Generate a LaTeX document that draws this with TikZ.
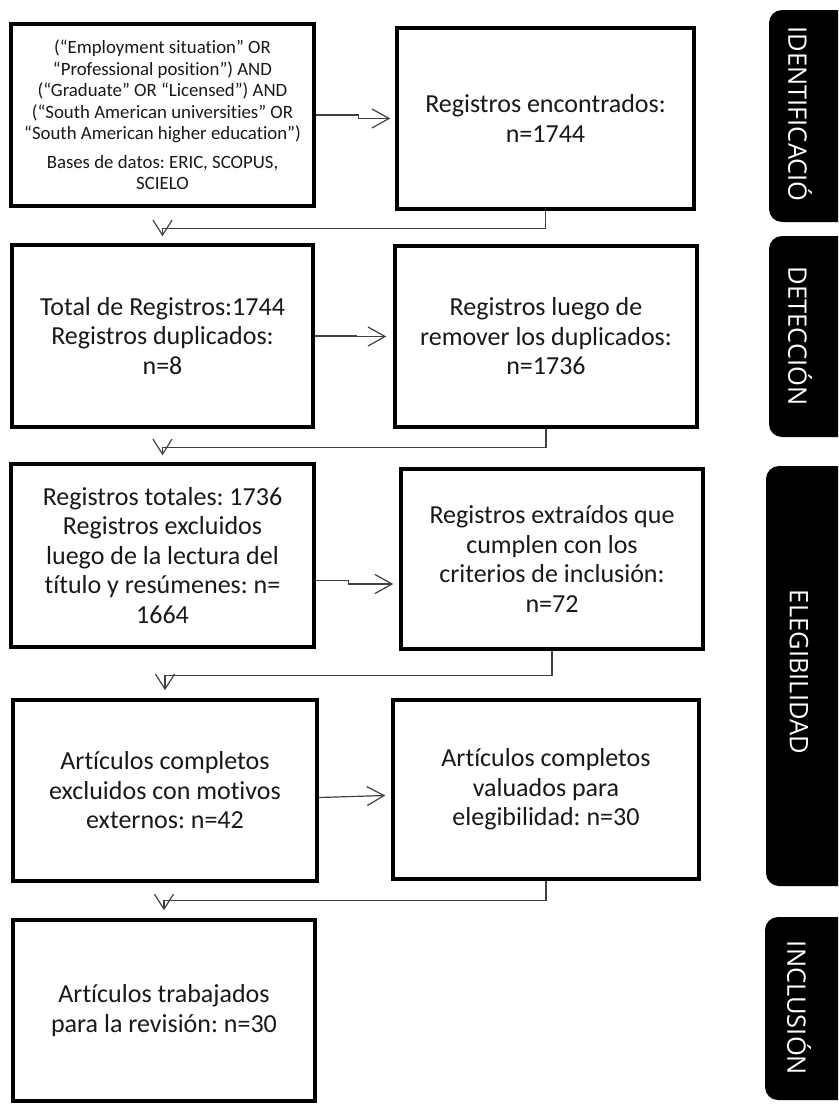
\documentclass[tikz,border=0pt]{standalone}
\usepackage{fontspec}
\IfFontExistsTF{Carlito-Regular.ttf}
  {\setmainfont{Carlito-Regular.ttf}[BoldFont=Carlito-Bold.ttf, Ligatures=NoCommon]}
  {\setmainfont{Carlito}[Ligatures=NoCommon]}
\newfontfamily\tabfont{Open Sans}
\usetikzlibrary{arrows.meta,calc}
\frenchspacing
\begin{document}
\begin{tikzpicture}[x=1pt,y=-1pt,
  box/.style={draw=black, line width=3.5pt, fill=white, inner sep=0pt, align=center,
    font=\fontsize{26}{29.5}\selectfont, text=black!90},
  conn/.style={draw=black!75, line width=1.2pt},
  hbarb/.style={-{Straight Barb[length=17pt,width=19pt]}},
  vbarb/.style={-{Straight Barb[length=15pt,width=19pt]}},
  tabbg/.style={fill=black, rounded corners=13pt},
  tablabel/.style={text=white, rotate=-90, font=\tabfont\fontsize{25.5}{30}\selectfont, inner sep=0pt}]
\useasboundingbox (0,0) rectangle (838,1111);
\clip (0,0) rectangle (838,1111);

% boxes
\node[box, minimum width=303pt, minimum height=182pt, font=\fontsize{18.8}{21.5}\selectfont] (b1) at (162.5,115)
  {(“Employment situation” OR\\ “Professional position”) AND\\ (“Graduate” OR “Licensed”) AND\\ (“South American universities” OR\\ “South American higher education”)\\[7pt] Bases de datos: ERIC, SCOPUS,\\ SCIELO};
\node[box, minimum width=297pt, minimum height=181pt] (b2) at (545.5,118.5) {Registros encontrados:\\ n=1744};
\node[box, minimum width=301pt, minimum height=182pt] (b3) at (162.5,336) {Total de Registros:1744\\ Registros duplicados:\\ n=8};
\node[box, minimum width=302pt, minimum height=181pt] (b4) at (546,336.5) {Registros luego de\\ remover los duplicados:\\ n=1736};
\node[box, minimum width=303pt, minimum height=183pt] (b5) at (162.5,555.5) {Registros totales: 1736\\ Registros excluidos\\ luego de la lectura del\\ título y resúmenes: n=\\ 1664};
\node[box, minimum width=302pt, minimum height=180pt] (b6) at (552,559) {Registros extraídos que\\ cumplen con los\\ criterios de inclusión:\\ n=72};
\node[box, minimum width=304pt, minimum height=181pt] (b7) at (165,790.5) {Artículos completos\\ excluidos con motivos\\ externos: n=42};
\node[box, minimum width=306pt, minimum height=179pt] (b8) at (546,789.5) {Artículos completos\\ valuados para\\ elegibilidad: n=30};
\node[box, minimum width=302pt, minimum height=181pt] (b9) at (164,1010.5) {Artículos trabajados\\ para la revisión: n=30};

% horizontal connectors
\draw[conn, hbarb] (b1.east) -- ++(43,0) |- ([xshift=-5pt]b2.west);
\draw[conn, hbarb] (b3.east) -- ++(42,0) |- ([xshift=-7pt]b4.west);
\draw[conn, hbarb] ([yshift=-25pt]b5.east) -- ++(33,0) |- ([xshift=-6pt,yshift=-25pt]b6.west);
\draw[conn, hbarb] ([yshift=-7pt]b7.east) -- ([xshift=-6pt,yshift=-6pt]b8.west);

% downward connectors
\draw[conn, vbarb] (b2.south) -- ++(0,18) -| ([yshift=7pt]b3.north);
\draw[conn, vbarb] (b4.south) -- ++(0,19) -| ([yshift=7pt]b5.north);
\draw[conn, vbarb] (b6.south) -- ++(0,25) -| ([yshift=8pt]b7.north);
\draw[conn, vbarb] (b8.south) -- ++(0,20) -| ([yshift=8pt]b9.north);

% phase tabs
\fill[tabbg] (769,10) rectangle (870,222);
\node[tablabel] (t1) at (800,114) {IDENTIFICACIÓ};
\fill[tabbg] (769,236) rectangle (870,437);
\node[tablabel] (t2) at (800,336) {DETECCIÓN};
\fill[tabbg] (766,466) rectangle (870,886);
\node[tablabel] (t3) at (799,672) {ELEGIBILIDAD};
\fill[tabbg] (765,917) rectangle (870,1100);
\node[tablabel] (t4) at (799,1008) {INCLUSIÓN};
\end{tikzpicture}
\end{document}
